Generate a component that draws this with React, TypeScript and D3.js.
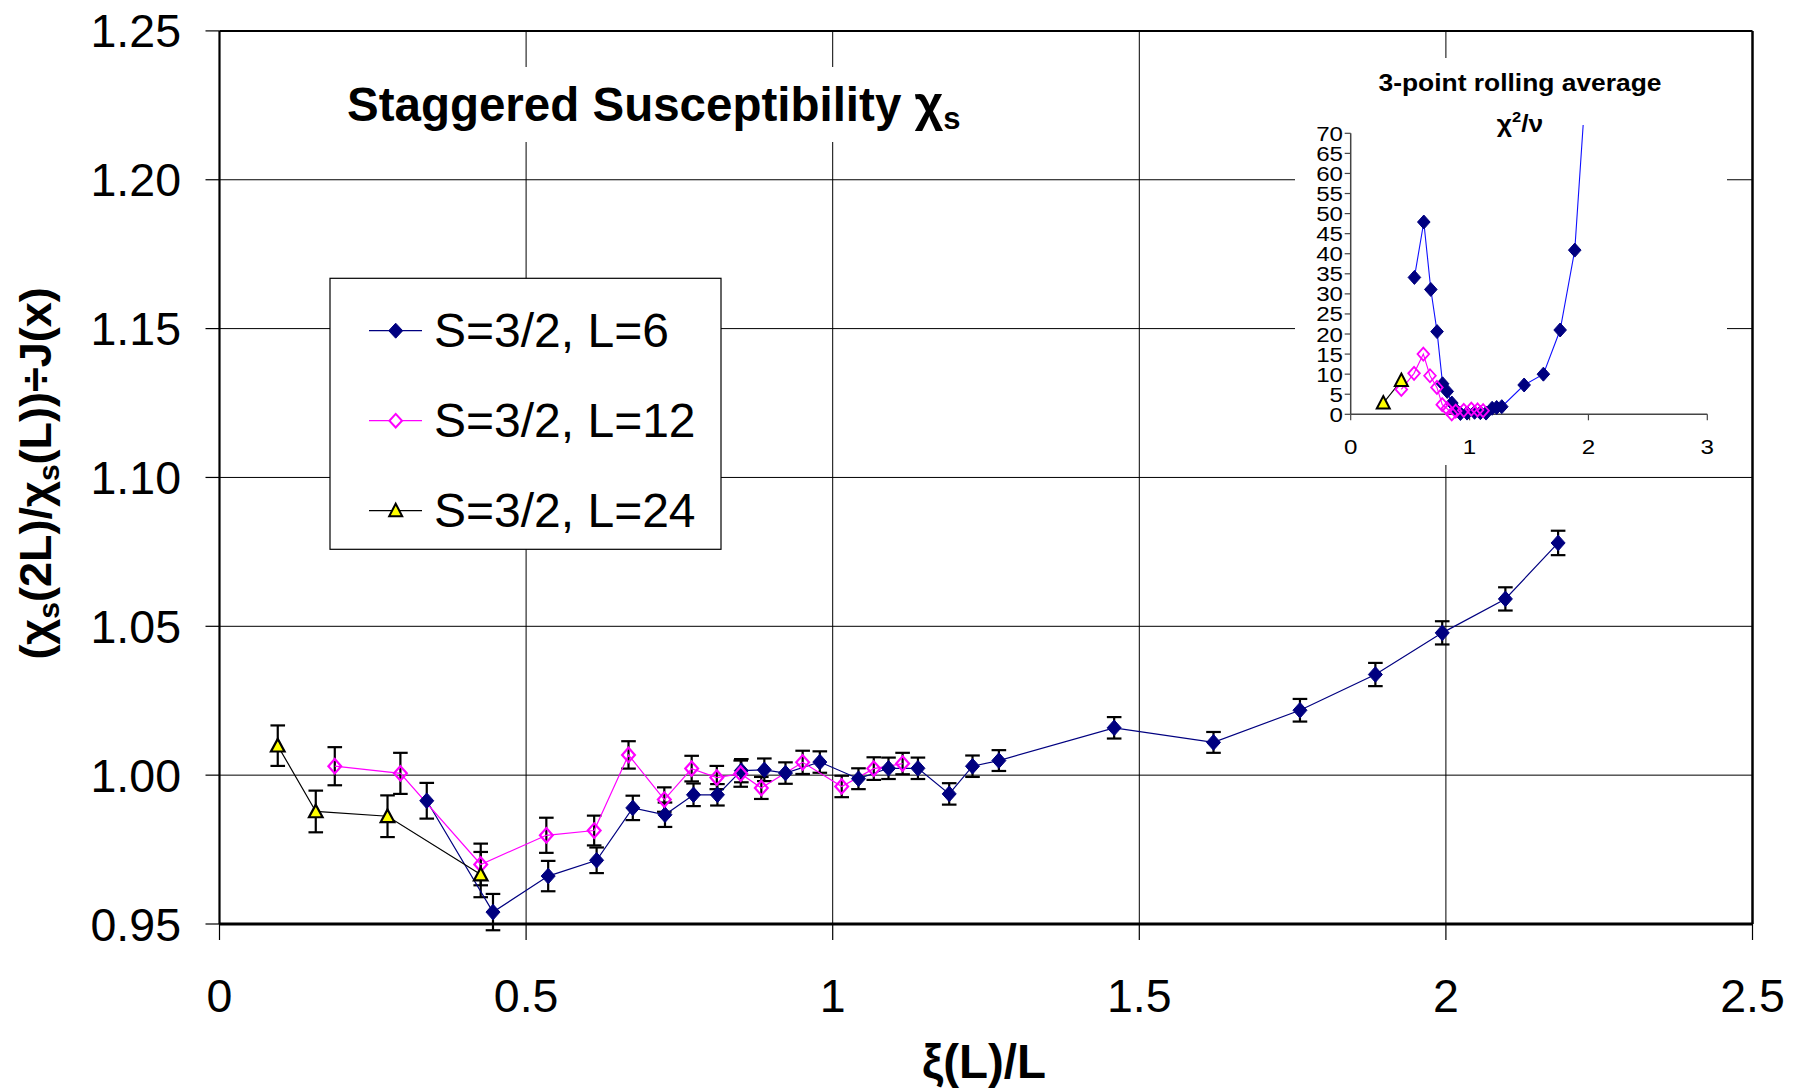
import React from 'react';
import * as d3 from 'd3';

// ---------- data ----------
const X_TICKS = [0, 0.5, 1, 1.5, 2, 2.5];
const X_TICK_LABELS = ['0', '0.5', '1', '1.5', '2', '2.5'];
const Y_TICKS = [0.95, 1.0, 1.05, 1.1, 1.15, 1.2, 1.25];
const Y_TICK_LABELS = ['0.95', '1.00', '1.05', '1.10', '1.15', '1.20', '1.25'];
const SERIES_NAMES = ['S=3/2, L=6', 'S=3/2, L=12', 'S=3/2, L=24'];

const L6_X = [0.338, 0.446, 0.536, 0.615, 0.674, 0.7265, 0.773, 0.812, 0.851, 0.8885, 0.923, 0.979, 1.042, 1.091, 1.139, 1.19, 1.228, 1.271, 1.459, 1.621, 1.762, 1.885, 1.994, 2.097, 2.183];
const L6_Y = [0.9914, 0.954, 0.9661, 0.9714, 0.989, 0.9867, 0.9934, 0.9934, 1.0015, 1.0018, 1.0007, 1.0044, 0.9988, 1.0023, 1.0023, 0.9937, 1.003, 1.0049, 1.0159, 1.011, 1.0218, 1.0338, 1.0478, 1.0592, 1.078];
const L6_ERR = [0.006, 0.0061, 0.0051, 0.0043, 0.0041, 0.0041, 0.0038, 0.0036, 0.0039, 0.0038, 0.0036, 0.0036, 0.0035, 0.0036, 0.0036, 0.0036, 0.0036, 0.0035, 0.0036, 0.0035, 0.0038, 0.0039, 0.0039, 0.0039, 0.0041];

const L12_X = [0.188, 0.295, 0.426, 0.533, 0.611, 0.667, 0.7254, 0.77, 0.811, 0.85, 0.8836, 0.951, 1.0147, 1.067, 1.114];
const L12_Y = [1.003, 1.0006, 0.97, 0.9798, 0.9814, 1.0068, 0.9918, 1.0022, 0.9992, 1.0005, 0.9957, 1.0043, 0.9962, 1.0022, 1.0039];
const L12_ERR = [0.0064, 0.0069, 0.007, 0.0059, 0.005, 0.0046, 0.0041, 0.0043, 0.0039, 0.0044, 0.0037, 0.0039, 0.0036, 0.0038, 0.0036];

const L24_X = [0.095, 0.157, 0.274, 0.426];
const L24_Y = [1.0099, 0.9878, 0.9862, 0.9666];
const L24_ERR = [0.0068, 0.007, 0.007, 0.0076];

// inset: 3-point rolling average chi^2/nu
const INSET_X_TICKS = [0, 1, 2, 3];
const INSET_Y_TICKS = [0, 5, 10, 15, 20, 25, 30, 35, 40, 45, 50, 55, 60, 65, 70];
const INSET_L6_X = [0.536, 0.615, 0.674, 0.7265, 0.773, 0.812, 0.851, 0.8885, 0.923, 0.979, 1.042, 1.091, 1.139, 1.19, 1.228, 1.271, 1.459, 1.621, 1.762, 1.885, 1.994];
const INSET_L6_Y = [34.1, 47.9, 31.1, 20.6, 7.6, 5.7, 2.8, 1.0, 0.2, 0.3, 0.5, 0.4, 0.3, 1.5, 1.7, 1.9, 7.3, 10.0, 21.0, 40.9, 89];
const INSET_L12_X = [0.426, 0.533, 0.611, 0.667, 0.7254, 0.77, 0.811, 0.85, 0.8836, 0.951, 1.0147, 1.067, 1.114];
const INSET_L12_Y = [6.2, 10.2, 15.0, 9.6, 6.7, 2.4, 1.4, 0.1, 0.8, 1.0, 1.3, 1.1, 0.9];
const INSET_L24_X = [0.274, 0.426];
const INSET_L24_Y = [2.8, 8.4];

// ---------- styles ----------
const NAVY = '#000080';
const BLUE = '#1010ff';
const MAGENTA = '#ff00ff';
const YELLOW = '#ffff00';
const FONT = 'Liberation Sans, Arial, Helvetica, sans-serif';
const FS = 46.5;

const diamond = (cx: number, cy: number, hw: number, hh: number) =>
  `M${cx},${cy - hh}L${cx + hw},${cy}L${cx},${cy + hh}L${cx - hw},${cy}Z`;
const triangle = (cx: number, cy: number, hw: number, up: number, down: number) =>
  `M${cx},${cy - up}L${cx + hw},${cy + down}L${cx - hw},${cy + down}Z`;

function T(props: { x: number; y: number; size: number; anchor?: string; weight?: string; sx?: number; children: any }) {
  const { x, y, size, anchor = 'start', weight = 'normal', sx = 1, children } = props;
  return (
    <text
      transform={`translate(${x},${y}) scale(${sx},1)`}
      fontFamily={FONT}
      fontSize={size}
      fontWeight={weight}
      textAnchor={anchor}
      fill="#000"
    >
      {children}
    </text>
  );
}

export default function App() {
  const W = 1793;
  const H = 1090;
  const left = 219.5, right = 1752.5, top = 30.9, bottom = 924;
  const x = d3.scaleLinear().domain([0, 2.5]).range([left, right]);
  const y = d3.scaleLinear().domain([0.95, 1.25]).range([bottom, top]);

  const ix = d3.scaleLinear().domain([0, 3]).range([1350.7, 1707.3]);
  const iy = d3.scaleLinear().domain([0, 70]).range([414.3, 133.3]);

  const mainPath = (xs: number[], ys: number[]) =>
    d3.line<number>().x((_, i) => x(xs[i])).y((_, i) => y(ys[i]))(xs) || '';
  const insetPath = (xs: number[], ys: number[]) =>
    d3.line<number>().x((_, i) => ix(xs[i])).y((_, i) => iy(ys[i]))(xs) || '';

  const errBars = (xs: number[], ys: number[], es: number[], key: string) =>
    xs.map((xv, i) => {
      const cx = x(xv);
      const y1 = y(ys[i] + es[i]);
      const y2 = y(ys[i] - es[i]);
      return (
        <g key={key + i} stroke="#000" strokeWidth={2.2}>
          <line x1={cx} x2={cx} y1={y1} y2={y2} />
          <line x1={cx - 7.3} x2={cx + 7.3} y1={y1} y2={y1} />
          <line x1={cx - 7.3} x2={cx + 7.3} y1={y2} y2={y2} />
        </g>
      );
    });

  const legendRows = [330.7, 420.7, 510.7];

  return (
    <svg width={W} height={H} style={{ position: 'absolute', left: 0, top: 0, background: '#fff' }}>
      <rect x={0} y={0} width={W} height={H} fill="#fff" />

      {/* gridlines */}
      {Y_TICKS.filter((t) => t > 0.95 && t < 1.25).map((t) => (
        <line key={'gy' + t} x1={left} x2={right} y1={y(t)} y2={y(t)} stroke="#000" strokeWidth={1} />
      ))}
      {X_TICKS.filter((t) => t > 0 && t < 2.5).map((t) => (
        <line key={'gx' + t} x1={x(t)} x2={x(t)} y1={top} y2={bottom} stroke="#000" strokeWidth={1} />
      ))}
      {/* ticks */}
      {Y_TICKS.map((t) => (
        <line key={'ty' + t} x1={left - 14} x2={left} y1={y(t)} y2={y(t)} stroke="#000" strokeWidth={1.2} />
      ))}
      {X_TICKS.map((t) => (
        <line key={'tx' + t} x1={x(t)} x2={x(t)} y1={bottom} y2={bottom + 16} stroke="#000" strokeWidth={1.2} />
      ))}

      {/* plot frame */}
      <line x1={left} x2={right} y1={top} y2={top} stroke="#000" strokeWidth={2} />
      <line x1={right} x2={right} y1={top} y2={bottom} stroke="#000" strokeWidth={2.5} />
      <line x1={left} x2={left} y1={top} y2={bottom} stroke="#000" strokeWidth={2.2} />
      <line x1={left} x2={right} y1={bottom} y2={bottom} stroke="#000" strokeWidth={3} />

      {/* title box */}
      <rect x={330} y={67} width={655} height={75} fill="#fff" />
      <text transform="translate(347,121)" fontFamily={FONT} fontSize={47.5} fontWeight="bold">
        Staggered Susceptibility <tspan fontSize={50}>χ</tspan>
        <tspan fontSize={31} dy={8}>s</tspan>
      </text>

      {/* tick labels */}
      {Y_TICKS.map((t, i) => (
        <T key={'yl' + t} x={181} y={y(t) + 16.5} size={FS} anchor="end">
          {Y_TICK_LABELS[i]}
        </T>
      ))}
      {X_TICKS.map((t, i) => (
        <T key={'xl' + t} x={x(t)} y={1012} size={FS} anchor="middle">
          {X_TICK_LABELS[i]}
        </T>
      ))}

      {/* axis titles */}
      <T x={(left + right) / 2 - 2} y={1078} size={47.5} anchor="middle" weight="bold">
        ξ(L)/L
      </T>
      <text
        transform={`translate(51,${(top + bottom) / 2 - 4}) rotate(-90)`}
        fontFamily={FONT}
        fontSize={45}
        fontWeight="bold"
        textAnchor="middle"
      >
        (χ<tspan fontSize={30} dy={8}>s</tspan>
        <tspan dy={-8}>(2L)/χ</tspan>
        <tspan fontSize={30} dy={8}>s</tspan>
        <tspan dy={-8}>(L))÷J(x)</tspan>
      </text>

      {/* error bars */}
      {errBars(L6_X, L6_Y, L6_ERR, 'e6')}
      {errBars(L12_X, L12_Y, L12_ERR, 'e12')}
      {errBars(L24_X, L24_Y, L24_ERR, 'e24')}

      {/* lines */}
      <path d={mainPath(L6_X, L6_Y)} fill="none" stroke={NAVY} strokeWidth={1.2} />
      <path d={mainPath(L12_X, L12_Y)} fill="none" stroke={MAGENTA} strokeWidth={1.2} />
      <path d={mainPath(L24_X, L24_Y)} fill="none" stroke="#000" strokeWidth={1.2} />

      {/* markers */}
      {L6_X.map((xv, i) => (
        <path key={'m6' + i} d={diamond(x(xv), y(L6_Y[i]), 7, 7.8)} fill={NAVY} stroke={NAVY} strokeWidth={1} />
      ))}
      {L12_X.map((xv, i) => (
        <path key={'m12' + i} d={diamond(x(xv), y(L12_Y[i]), 6.4, 7.2)} fill="none" stroke={MAGENTA} strokeWidth={2.2} />
      ))}
      {L24_X.map((xv, i) => (
        <path key={'m24' + i} d={triangle(x(xv), y(L24_Y[i]), 6.8, 6.8, 5.8)} fill={YELLOW} stroke="#000" strokeWidth={2.2} />
      ))}

      {/* legend */}
      <rect x={330} y={278.3} width={391} height={271} fill="#fff" stroke="#000" strokeWidth={1.2} />
      {SERIES_NAMES.map((name, i) => {
        const ly = legendRows[i];
        const col = i === 0 ? NAVY : i === 1 ? MAGENTA : '#000';
        return (
          <g key={'lg' + i}>
            <line x1={369} x2={422} y1={ly} y2={ly} stroke={col} strokeWidth={1.2} />
            {i === 0 && <path d={diamond(395.7, ly, 7, 7.5)} fill={NAVY} stroke={NAVY} />}
            {i === 1 && <path d={diamond(395.7, ly, 6.3, 6.8)} fill="#fff" stroke={MAGENTA} strokeWidth={2} />}
            {i === 2 && <path d={triangle(395.7, ly, 6.5, 7, 5.5)} fill={YELLOW} stroke="#000" strokeWidth={2} />}
            <T x={434} y={ly + 16.5} size={48}>
              {name}
            </T>
          </g>
        );
      })}

      {/* inset */}
      <rect x={1295} y={58} width={432} height={407} fill="#fff" />
      <T x={1520} y={90.7} size={24} anchor="middle" weight="bold" sx={1.1}>
        3-point rolling average
      </T>
      <text transform={`translate(1520,131.7) scale(1.1,1)`} fontFamily={FONT} fontSize={24} fontWeight="bold" textAnchor="middle">
        χ<tspan fontSize={15} dy={-10}>2</tspan>
        <tspan dy={10}>/ν</tspan>
      </text>
      <defs>
        <clipPath id="insetClip">
          <rect x={1300} y={125} width={420} height={300} />
        </clipPath>
      </defs>
      <line x1={ix(0)} x2={ix(0)} y1={iy(70)} y2={iy(0)} stroke="#444" strokeWidth={1.5} />
      <line x1={ix(0)} x2={ix(3)} y1={iy(0)} y2={iy(0)} stroke="#444" strokeWidth={1.5} />
      {INSET_Y_TICKS.map((t) => (
        <g key={'iy' + t}>
          <line x1={ix(0) - 6} x2={ix(0)} y1={iy(t)} y2={iy(t)} stroke="#444" strokeWidth={1.2} />
          <T x={1343} y={iy(t) + 7.5} size={21} anchor="end" sx={1.15}>
            {String(t)}
          </T>
        </g>
      ))}
      {INSET_X_TICKS.map((t) => (
        <g key={'ix' + t}>
          <line x1={ix(t)} x2={ix(t)} y1={iy(0)} y2={iy(0) + 6} stroke="#444" strokeWidth={1.2} />
          <T x={ix(t)} y={454} size={21} anchor="middle" sx={1.15}>
            {String(t)}
          </T>
        </g>
      ))}
      <g clipPath="url(#insetClip)">
        <path d={insetPath(INSET_L6_X, INSET_L6_Y)} fill="none" stroke={BLUE} strokeWidth={1.1} />
        <path d={insetPath(INSET_L12_X, INSET_L12_Y)} fill="none" stroke={MAGENTA} strokeWidth={1.1} />
        <path d={insetPath(INSET_L24_X, INSET_L24_Y)} fill="none" stroke="#000" strokeWidth={1.1} />
        {INSET_L6_X.map((xv, i) => (
          <path key={'i6' + i} d={diamond(ix(xv), iy(INSET_L6_Y[i]), 6.3, 7)} fill={NAVY} stroke={NAVY} />
        ))}
        {INSET_L12_X.map((xv, i) => (
          <path key={'i12' + i} d={diamond(ix(xv), iy(INSET_L12_Y[i]), 5.8, 6.5)} fill="none" stroke={MAGENTA} strokeWidth={1.8} />
        ))}
        {INSET_L24_X.map((xv, i) => (
          <path key={'i24' + i} d={triangle(ix(xv), iy(INSET_L24_Y[i]), 6.5, 7, 5.5)} fill={YELLOW} stroke="#000" strokeWidth={2} />
        ))}
      </g>
    </svg>
  );
}
